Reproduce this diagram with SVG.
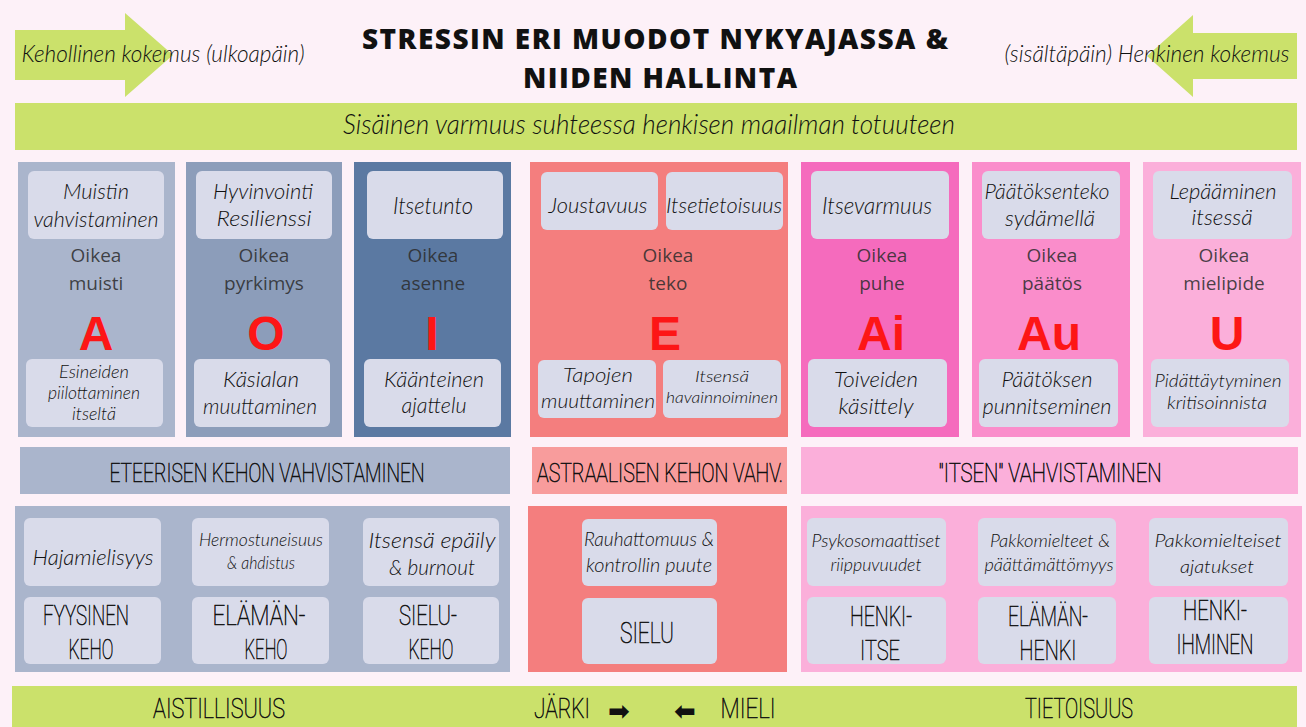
<svg xmlns="http://www.w3.org/2000/svg" width="1306" height="727" viewBox="0 0 1306 727">
<style>
.hw{font-family:Lato,"Open Sans",sans-serif;font-style:italic;font-weight:300;fill:#111;text-anchor:middle}
.nar{font-family:Roboto,"Liberation Sans",sans-serif;font-weight:100;fill:#111;stroke:#111;stroke-width:0.6;text-anchor:middle}
.ok{font-family:"Open Sans","Liberation Sans",sans-serif;font-size:19px;fill:#2b2b2b;fill-opacity:0.85;text-anchor:middle}
.big{font-family:"Liberation Sans",Arial,sans-serif;font-weight:900;font-size:48px;fill:#fd1616;text-anchor:middle}
.box{fill:#d9dbea}
.green{fill:#cbe16b}
.title{font-family:"Open Sans","Liberation Sans",sans-serif;font-weight:800;font-size:28px;fill:#111;text-anchor:middle}
.arr{font-family:"DejaVu Sans",sans-serif;font-weight:bold;font-size:26px;fill:#111;text-anchor:middle}
</style>
<rect x="0" y="0" width="1306" height="727" fill="#fdf1f8"/>

<g id="connectors">
  <polygon class="green" points="15,30 125,30 125,13 173,55 125,97 125,80 15,80"/>
  <polygon class="green" points="1297,33 1193,33 1193,15 1147,56 1193,97 1193,79 1297,79"/>
</g>

<g id="title">
  <text class="title" x="655" y="49" textLength="586" lengthAdjust="spacing">STRESSIN ERI MUODOT NYKYAJASSA &amp;</text>
  <text class="title" x="660" y="88" textLength="274" lengthAdjust="spacing">NIIDEN HALLINTA</text>
</g>

<g id="label-left">
  <text class="hw" x="163" y="62" font-size="24" textLength="283" lengthAdjust="spacingAndGlyphs">Kehollinen kokemus (ulkoapäin)</text>
</g>
<g id="label-right">
  <text class="hw" x="1147" y="62" font-size="24" textLength="285" lengthAdjust="spacingAndGlyphs">(sisältäpäin) Henkinen kokemus</text>
</g>

<g id="banner">
  <rect class="green" x="15" y="103" width="1282" height="47"/>
  <text class="hw" x="649" y="134" font-size="28" textLength="612" lengthAdjust="spacingAndGlyphs">Sisäinen varmuus suhteessa henkisen maailman totuuteen</text>
</g>

<!-- Columns -->
<g id="col-A">
  <rect x="18" y="162" width="157" height="275" fill="#aab5cc"/>
  <rect class="box" x="28" y="171" width="136" height="68" rx="6"/>
  <text class="hw" x="96" y="199" font-size="22" textLength="66" lengthAdjust="spacingAndGlyphs">Muistin</text>
  <text class="hw" x="96" y="227" font-size="22" textLength="125" lengthAdjust="spacingAndGlyphs">vahvistaminen</text>
  <text class="ok" x="96" y="262">Oikea</text>
  <text class="ok" x="96" y="290">muisti</text>
  <text class="big" x="96" y="350">A</text>
  <rect class="box" x="26" y="359" width="137" height="68" rx="6"/>
  <text class="hw" x="94" y="378" font-size="17" textLength="70" lengthAdjust="spacingAndGlyphs">Esineiden</text>
  <text class="hw" x="94" y="399" font-size="17" textLength="92" lengthAdjust="spacingAndGlyphs">piilottaminen</text>
  <text class="hw" x="94" y="420" font-size="17" textLength="44" lengthAdjust="spacingAndGlyphs">itseltä</text>
</g>

<g id="col-O">
  <rect x="186" y="162" width="156" height="275" fill="#8c9dba"/>
  <rect class="box" x="196" y="171" width="136" height="68" rx="6"/>
  <text class="hw" x="263" y="199" font-size="22" textLength="100" lengthAdjust="spacingAndGlyphs">Hyvinvointi</text>
  <text class="hw" x="264" y="226" font-size="22" textLength="95" lengthAdjust="spacingAndGlyphs">Resilienssi</text>
  <text class="ok" x="264" y="262">Oikea</text>
  <text class="ok" x="264" y="290">pyrkimys</text>
  <text class="big" x="266" y="350">O</text>
  <rect class="box" x="194" y="359" width="136" height="68" rx="6"/>
  <text class="hw" x="261" y="387" font-size="22" textLength="76" lengthAdjust="spacingAndGlyphs">Käsialan</text>
  <text class="hw" x="260" y="414" font-size="22" textLength="114" lengthAdjust="spacingAndGlyphs">muuttaminen</text>
</g>

<g id="col-I">
  <rect x="354" y="162" width="157" height="275" fill="#5b79a2"/>
  <rect class="box" x="367" y="171" width="136" height="68" rx="6"/>
  <text class="hw" x="433" y="214" font-size="23" textLength="80" lengthAdjust="spacingAndGlyphs">Itsetunto</text>
  <text class="ok" x="433" y="262">Oikea</text>
  <text class="ok" x="433" y="290">asenne</text>
  <text class="big" x="432" y="350">I</text>
  <rect class="box" x="364" y="359" width="137" height="68" rx="6"/>
  <text class="hw" x="434" y="387" font-size="22" textLength="100" lengthAdjust="spacingAndGlyphs">Käänteinen</text>
  <text class="hw" x="434" y="413" font-size="22" textLength="65" lengthAdjust="spacingAndGlyphs">ajattelu</text>
</g>

<g id="col-E">
  <rect x="530" y="162" width="258" height="275" fill="#f47e7e"/>
  <rect class="box" x="541" y="172" width="117" height="58" rx="6"/>
  <text class="hw" x="598" y="213" font-size="21" textLength="99" lengthAdjust="spacingAndGlyphs">Joustavuus</text>
  <rect class="box" x="666" y="172" width="117" height="58" rx="6"/>
  <text class="hw" x="724" y="213" font-size="21" textLength="116" lengthAdjust="spacingAndGlyphs">Itsetietoisuus</text>
  <text class="ok" x="668" y="262">Oikea</text>
  <text class="ok" x="668" y="290">teko</text>
  <text class="big" x="665" y="350">E</text>
  <rect class="box" x="538" y="360" width="118" height="58" rx="6"/>
  <text class="hw" x="598" y="382" font-size="20" textLength="70" lengthAdjust="spacingAndGlyphs">Tapojen</text>
  <text class="hw" x="598" y="408" font-size="20" textLength="114" lengthAdjust="spacingAndGlyphs">muuttaminen</text>
  <rect class="box" x="663" y="360" width="118" height="58" rx="6"/>
  <text class="hw" x="722" y="382" font-size="16" textLength="54" lengthAdjust="spacingAndGlyphs">Itsensä</text>
  <text class="hw" x="722" y="403" font-size="16" textLength="112" lengthAdjust="spacingAndGlyphs">havainnoiminen</text>
</g>

<g id="col-Ai">
  <rect x="801" y="162" width="158" height="275" fill="#f56bbd"/>
  <rect class="box" x="811" y="171" width="138" height="68" rx="6"/>
  <text class="hw" x="877" y="214" font-size="23" textLength="110" lengthAdjust="spacingAndGlyphs">Itsevarmuus</text>
  <text class="ok" x="882" y="262">Oikea</text>
  <text class="ok" x="882" y="290">puhe</text>
  <text class="big" x="881" y="350">Ai</text>
  <rect class="box" x="808" y="359" width="139" height="68" rx="6"/>
  <text class="hw" x="876" y="387" font-size="22" textLength="84" lengthAdjust="spacingAndGlyphs">Toiveiden</text>
  <text class="hw" x="876" y="414" font-size="22" textLength="75" lengthAdjust="spacingAndGlyphs">käsittely</text>
</g>

<g id="col-Au">
  <rect x="972" y="162" width="158" height="275" fill="#fa8dcb"/>
  <rect class="box" x="982" y="171" width="138" height="68" rx="6"/>
  <text class="hw" x="1047" y="199" font-size="22" textLength="125" lengthAdjust="spacingAndGlyphs">Päätöksenteko</text>
  <text class="hw" x="1050" y="226" font-size="22" textLength="90" lengthAdjust="spacingAndGlyphs">sydämellä</text>
  <text class="ok" x="1052" y="262">Oikea</text>
  <text class="ok" x="1052" y="290">päätös</text>
  <text class="big" x="1049" y="350">Au</text>
  <rect class="box" x="979" y="359" width="139" height="68" rx="6"/>
  <text class="hw" x="1047" y="387" font-size="22" textLength="91" lengthAdjust="spacingAndGlyphs">Päätöksen</text>
  <text class="hw" x="1047" y="414" font-size="22" textLength="129" lengthAdjust="spacingAndGlyphs">punnitseminen</text>
</g>

<g id="col-U">
  <rect x="1143" y="162" width="158" height="275" fill="#fbafda"/>
  <rect class="box" x="1153" y="171" width="139" height="68" rx="6"/>
  <text class="hw" x="1223" y="199" font-size="22" textLength="107" lengthAdjust="spacingAndGlyphs">Lepääminen</text>
  <text class="hw" x="1222" y="225" font-size="22" textLength="61" lengthAdjust="spacingAndGlyphs">itsessä</text>
  <text class="ok" x="1224" y="262">Oikea</text>
  <text class="ok" x="1224" y="290">mielipide</text>
  <text class="big" x="1227" y="350">U</text>
  <rect class="box" x="1151" y="359" width="138" height="68" rx="6"/>
  <text class="hw" x="1218" y="387" font-size="17" textLength="127" lengthAdjust="spacingAndGlyphs">Pidättäytyminen</text>
  <text class="hw" x="1217" y="409" font-size="17" textLength="100" lengthAdjust="spacingAndGlyphs">kritisoinnista</text>
</g>

<!-- Bands -->
<g id="band-eteerinen">
  <rect x="20" y="447" width="490" height="47" fill="#aab5cc"/>
  <text class="nar" x="267" y="482" font-size="25" textLength="315" lengthAdjust="spacingAndGlyphs">ETEERISEN KEHON VAHVISTAMINEN</text>
</g>
<g id="band-astraalinen">
  <rect x="532" y="447" width="255" height="47" fill="#f89c9c"/>
  <text class="nar" x="660" y="482" font-size="25" textLength="246" lengthAdjust="spacingAndGlyphs">ASTRAALISEN KEHON VAHV.</text>
</g>
<g id="band-itse">
  <rect x="801" y="447" width="497" height="47" fill="#fbafda"/>
  <text class="nar" x="1050" y="482" font-size="25" textLength="223" lengthAdjust="spacingAndGlyphs">"ITSEN" VAHVISTAMINEN</text>
</g>

<!-- Bottom panels -->
<g id="panel-eteerinen">
  <rect x="15" y="506" width="495" height="166" fill="#aab5cc"/>
  <rect class="box" x="24" y="518" width="137" height="68" rx="6"/>
  <text class="hw" x="93" y="565" font-size="22" textLength="121" lengthAdjust="spacingAndGlyphs">Hajamielisyys</text>
  <rect class="box" x="192" y="518" width="137" height="68" rx="6"/>
  <text class="hw" x="261" y="546" font-size="17" textLength="124" lengthAdjust="spacingAndGlyphs">Hermostuneisuus</text>
  <text class="hw" x="261" y="569" font-size="17" textLength="68" lengthAdjust="spacingAndGlyphs">&amp; ahdistus</text>
  <rect class="box" x="363" y="518" width="136" height="68" rx="6"/>
  <text class="hw" x="432" y="548" font-size="21" textLength="127" lengthAdjust="spacingAndGlyphs">Itsensä epäily</text>
  <text class="hw" x="432" y="575" font-size="21" textLength="86" lengthAdjust="spacingAndGlyphs">&amp; burnout</text>
  <rect class="box" x="24" y="597" width="137" height="67" rx="6"/>
  <text class="nar" x="86" y="625" font-size="28" textLength="86" lengthAdjust="spacingAndGlyphs">FYYSINEN</text>
  <text class="nar" x="91" y="659" font-size="28" textLength="45" lengthAdjust="spacingAndGlyphs">KEHO</text>
  <rect class="box" x="192" y="597" width="137" height="67" rx="6"/>
  <text class="nar" x="259" y="625" font-size="28" textLength="93" lengthAdjust="spacingAndGlyphs">ELÄMÄN-</text>
  <text class="nar" x="266" y="659" font-size="28" textLength="43" lengthAdjust="spacingAndGlyphs">KEHO</text>
  <rect class="box" x="363" y="597" width="136" height="67" rx="6"/>
  <text class="nar" x="428" y="625" font-size="28" textLength="58" lengthAdjust="spacingAndGlyphs">SIELU-</text>
  <text class="nar" x="431" y="659" font-size="28" textLength="45" lengthAdjust="spacingAndGlyphs">KEHO</text>
</g>

<g id="panel-astraalinen">
  <rect x="528" y="506" width="259" height="166" fill="#f47e7e"/>
  <rect class="box" x="582" y="519" width="135" height="67" rx="6"/>
  <text class="hw" x="649" y="546" font-size="19" textLength="130" lengthAdjust="spacingAndGlyphs">Rauhattomuus &amp;</text>
  <text class="hw" x="649" y="572" font-size="19" textLength="126" lengthAdjust="spacingAndGlyphs">kontrollin puute</text>
  <rect class="box" x="582" y="598" width="135" height="66" rx="6"/>
  <text class="nar" x="647" y="643" font-size="30" textLength="54" lengthAdjust="spacingAndGlyphs">SIELU</text>
</g>

<g id="panel-itse">
  <rect x="801" y="506" width="501" height="166" fill="#fbafda"/>
  <rect class="box" x="807" y="518" width="139" height="68" rx="6"/>
  <text class="hw" x="876" y="547" font-size="18" textLength="129" lengthAdjust="spacingAndGlyphs">Psykosomaattiset</text>
  <text class="hw" x="876" y="571" font-size="18" textLength="91" lengthAdjust="spacingAndGlyphs">riippuvuudet</text>
  <rect class="box" x="978" y="518" width="138" height="68" rx="6"/>
  <text class="hw" x="1050" y="547" font-size="18" textLength="120" lengthAdjust="spacingAndGlyphs">Pakkomielteet &amp;</text>
  <text class="hw" x="1049" y="571" font-size="18" textLength="129" lengthAdjust="spacingAndGlyphs">päättämättömyys</text>
  <rect class="box" x="1149" y="518" width="139" height="68" rx="6"/>
  <text class="hw" x="1218" y="547" font-size="18" textLength="127" lengthAdjust="spacingAndGlyphs">Pakkomielteiset</text>
  <text class="hw" x="1217" y="573" font-size="18" textLength="74" lengthAdjust="spacingAndGlyphs">ajatukset</text>
  <rect class="box" x="807" y="597" width="139" height="67" rx="6"/>
  <text class="nar" x="881" y="626" font-size="28" textLength="62" lengthAdjust="spacingAndGlyphs">HENKI-</text>
  <text class="nar" x="880" y="660" font-size="28" textLength="40" lengthAdjust="spacingAndGlyphs">ITSE</text>
  <rect class="box" x="978" y="597" width="138" height="67" rx="6"/>
  <text class="nar" x="1048" y="626" font-size="28" textLength="80" lengthAdjust="spacingAndGlyphs">ELÄMÄN-</text>
  <text class="nar" x="1048" y="660" font-size="28" textLength="57" lengthAdjust="spacingAndGlyphs">HENKI</text>
  <rect class="box" x="1149" y="597" width="139" height="67" rx="6"/>
  <text class="nar" x="1215" y="620" font-size="27" textLength="64" lengthAdjust="spacingAndGlyphs">HENKI-</text>
  <text class="nar" x="1215" y="654" font-size="27" textLength="77" lengthAdjust="spacingAndGlyphs">IHMINEN</text>
</g>

<g id="footer">
  <rect class="green" x="12" y="686" width="1285" height="41"/>
  <text class="nar" x="219" y="718" font-size="28" textLength="132" lengthAdjust="spacingAndGlyphs">AISTILLISUUS</text>
  <text class="nar" x="562" y="718" font-size="28" textLength="56" lengthAdjust="spacingAndGlyphs">JÄRKI</text>
  <text class="arr" x="619" y="720">➡</text>
  <text class="arr" x="685" y="720">⬅</text>
  <text class="nar" x="748" y="718" font-size="28" textLength="55" lengthAdjust="spacingAndGlyphs">MIELI</text>
  <text class="nar" x="1079" y="718" font-size="28" textLength="108" lengthAdjust="spacingAndGlyphs">TIETOISUUS</text>
</g>
</svg>
